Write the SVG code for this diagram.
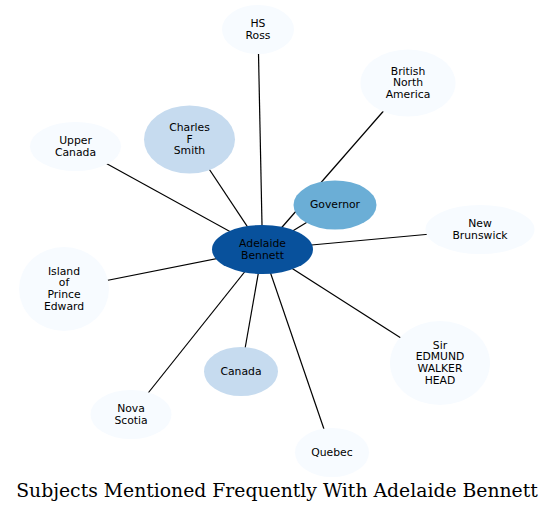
<svg xmlns="http://www.w3.org/2000/svg" width="555" height="513" viewBox="0 0 555 513">
<style>
.e{stroke:#000;stroke-width:1.2;fill:none}
.t{font-family:"DejaVu Sans",sans-serif;font-size:10.8px;text-anchor:middle;fill:#000}
.c0{fill:#f7fbff}
.c1{fill:#c6dbef}
.c2{fill:#6baed6}
.c3{fill:#08519c}
.title{font-family:"DejaVu Serif",serif;font-size:18.8px;text-anchor:middle;fill:#000}
</style>
<rect width="555" height="513" fill="#fff"/>
<g id="edges">
<line class="e" x1="262.5" y1="249.5" x2="258" y2="29.5"/>
<line class="e" x1="262.5" y1="249.5" x2="189.5" y2="139.5"/>
<line class="e" x1="262.5" y1="249.5" x2="75.5" y2="146.5"/>
<line class="e" x1="262.5" y1="249.5" x2="408" y2="83"/>
<line class="e" x1="262.5" y1="249.5" x2="335" y2="205"/>
<line class="e" x1="262.5" y1="249.5" x2="480" y2="229.5"/>
<line class="e" x1="262.5" y1="249.5" x2="64" y2="289"/>
<line class="e" x1="262.5" y1="249.5" x2="241" y2="371.5"/>
<line class="e" x1="262.5" y1="249.5" x2="131" y2="414.5"/>
<line class="e" x1="262.5" y1="249.5" x2="440" y2="363"/>
<line class="e" x1="262.5" y1="249.5" x2="332" y2="452.5"/>
</g>
<g id="hs_ross"><ellipse class="c0" cx="258" cy="29.5" rx="36" ry="24.5"/><text class="t" x="258" y="26.9">HS</text><text class="t" x="258" y="38.6">Ross</text></g>
<g id="charles_f_smith"><ellipse class="c1" cx="189.5" cy="139.5" rx="45.5" ry="34"/><text class="t" x="189.5" y="131">Charles</text><text class="t" x="189.5" y="142.7">F</text><text class="t" x="189.5" y="154.4">Smith</text></g>
<g id="upper_canada"><ellipse class="c0" cx="75.5" cy="146.5" rx="45.5" ry="24.5"/><text class="t" x="75.5" y="143.9">Upper</text><text class="t" x="75.5" y="155.6">Canada</text></g>
<g id="british_north_america"><ellipse class="c0" cx="408" cy="83" rx="47.5" ry="33.5"/><text class="t" x="408" y="74.5">British</text><text class="t" x="408" y="86.2">North</text><text class="t" x="408" y="97.9">America</text></g>
<g id="governor"><ellipse class="c2" cx="335" cy="205" rx="41.5" ry="24.5"/><text class="t" x="335" y="208.2">Governor</text></g>
<g id="adelaide_bennett"><ellipse class="c3" cx="262.5" cy="249.5" rx="50.5" ry="24.5"/><text class="t" x="262.5" y="246.9">Adelaide</text><text class="t" x="262.5" y="258.6">Bennett</text></g>
<g id="new_brunswick"><ellipse class="c0" cx="480" cy="229.5" rx="54.5" ry="24.5"/><text class="t" x="480" y="226.9">New</text><text class="t" x="480" y="238.6">Brunswick</text></g>
<g id="island_of_prince_edward"><ellipse class="c0" cx="64" cy="289" rx="45" ry="42"/><text class="t" x="64" y="274.7">Island</text><text class="t" x="64" y="286.4">of</text><text class="t" x="64" y="298.1">Prince</text><text class="t" x="64" y="309.8">Edward</text></g>
<g id="canada"><ellipse class="c1" cx="241" cy="371.5" rx="37" ry="24.5"/><text class="t" x="241" y="374.7">Canada</text></g>
<g id="nova_scotia"><ellipse class="c0" cx="131" cy="414.5" rx="40.5" ry="24.5"/><text class="t" x="131" y="411.9">Nova</text><text class="t" x="131" y="423.6">Scotia</text></g>
<g id="sir_edmund_walker_head"><ellipse class="c0" cx="440" cy="363" rx="50" ry="42"/><text class="t" x="440" y="348.7">Sir</text><text class="t" x="440" y="360.4">EDMUND</text><text class="t" x="440" y="372.1">WALKER</text><text class="t" x="440" y="383.8">HEAD</text></g>
<g id="quebec"><ellipse class="c0" cx="332" cy="452.5" rx="37" ry="24.5"/><text class="t" x="332" y="455.7">Quebec</text></g>
<text class="title" x="277" y="497">Subjects Mentioned Frequently With Adelaide Bennett</text>
</svg>
